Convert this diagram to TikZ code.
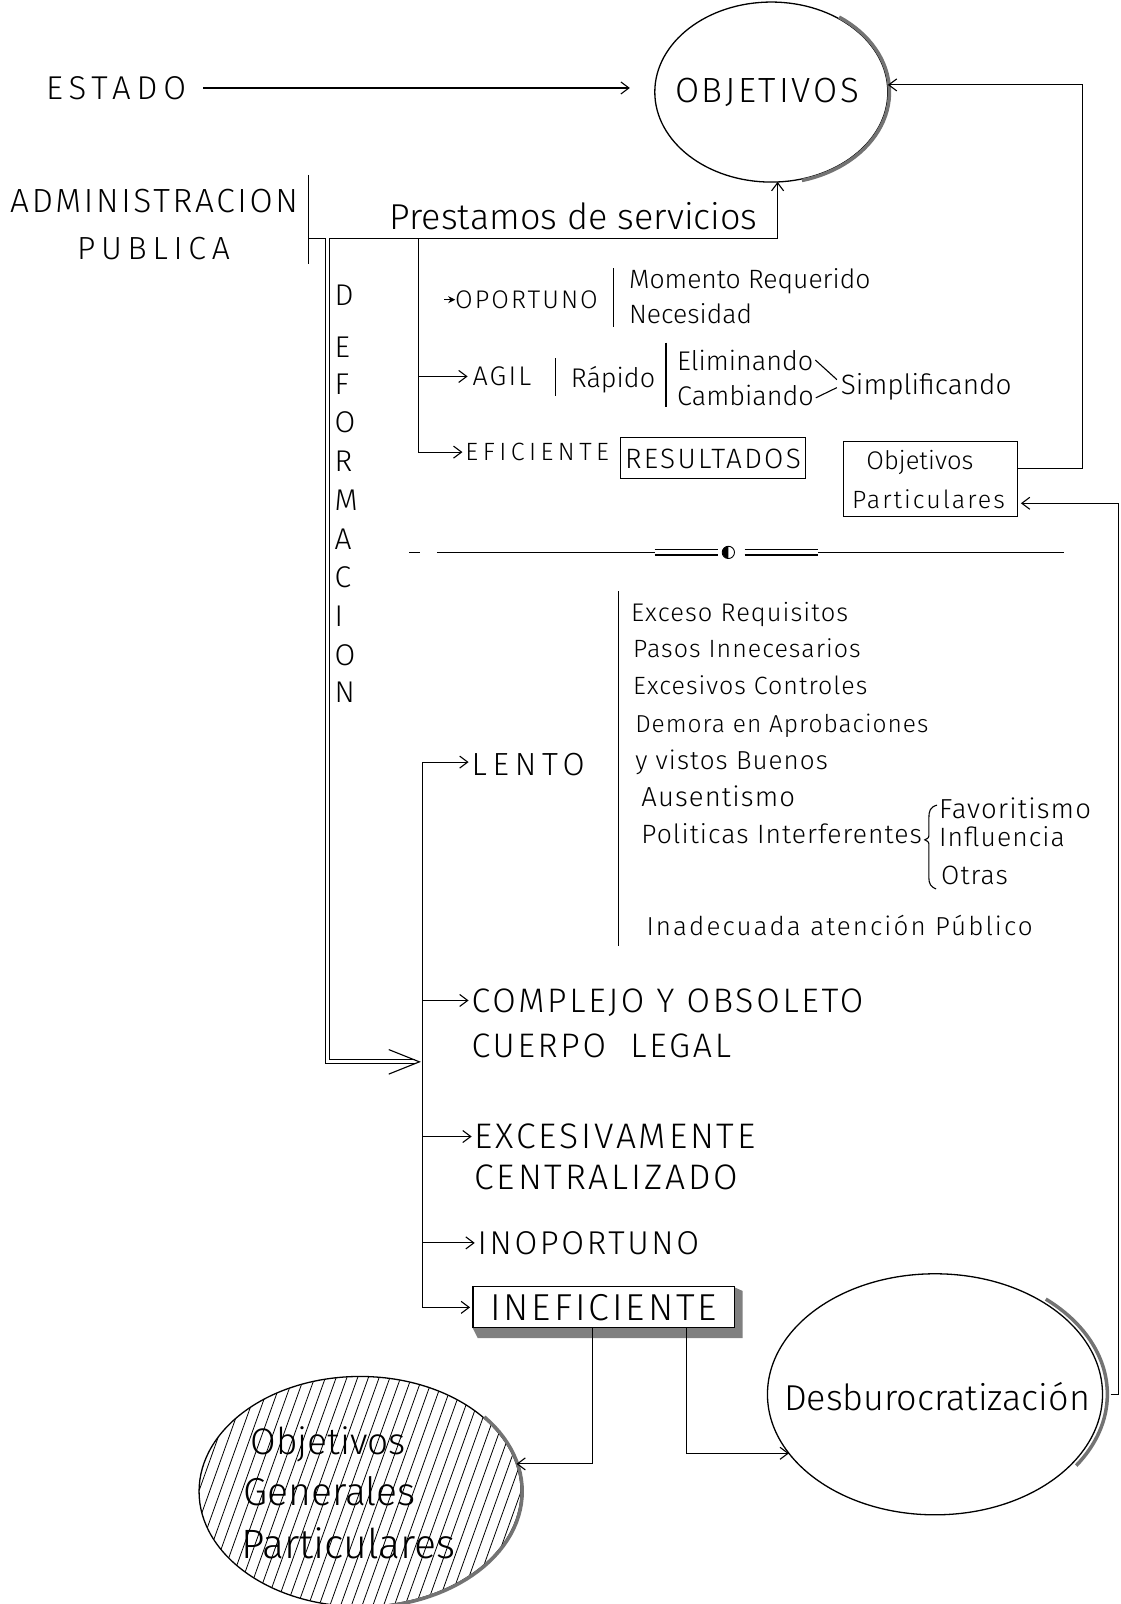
\documentclass[tikz,border=0pt]{standalone}
\usepackage{fontspec}
\setmainfont{Fira Sans Light}
\newfontfamily\widefont{Fira Sans Light}[LetterSpace=8]
\newfontfamily\widerfont{Fira Sans Light}[LetterSpace=18]
\newfontfamily\listfont{Fira Sans Light}[LetterSpace=4]
\usetikzlibrary{arrows.meta,calc,shapes.geometric}
\newcommand{\fsz}[1]{\fontsize{#1}{#1}\selectfont}
\begin{document}
\begin{tikzpicture}[x=1.0228pt, y=-1.0228pt, line width=1.1pt,
  txt/.style={inner sep=0pt, outer sep=0pt, anchor=west, text depth=0pt},
  ctr/.style={inner sep=0pt, outer sep=0pt, anchor=center, text depth=0pt},
  tip/.style={-{Straight Barb[length=8pt,width=12pt]}},
  smalltip/.style={-{Stealth[length=7pt,width=7pt]}},
  ring/.style={ellipse, draw, line width=1.3pt, inner sep=0pt, outer sep=0pt},
  frame/.style={draw, line width=1.1pt, inner sep=0pt, outer sep=0pt, text depth=0pt},
  rim/.style={line width=3.5pt, black!55}]

% page
\useasboundingbox (0,0) rectangle (1095,1568);
\fill[white] (0,0) rectangle (1095,1568);

% ---- top: Estado -> Objetivos ----
\node[ring, minimum width=233pt, minimum height=180pt] (obj) at (754,90) {};
\draw[rim] plot[domain=-75:55, samples=40] ({754+115.5*cos(\x)},{90-89.5*sin(\x)});
\node[ctr, font=\widefont\fsz{35}] (objt) at (750,88) {OBJETIVOS};
\node[txt, font=\widerfont\fsz{33}] (estado) at (45,86) {ESTADO};
\draw[tip] ([xshift=17pt]estado.east) -- ([xshift=-25pt]obj.west |- estado.east);

% ---- Administracion publica ----
\node[txt, font=\widefont\fsz{33.5}] (adm) at (10,196) {ADMINISTRACION};
\node[ctr, font=\widerfont\fsz{32}] (pub) at (150,243) {PUBLICA};
\coordinate (bart) at (302,171);
\coordinate (barb) at (302,258);
\draw (bart) -- (barb);
\coordinate (hub) at (302,233);
\draw[tip] (hub) -| (obj.-86);
\node[txt, font=\fsz{36}] (prest) at (381,211) {Prestamos de servicios};

% ---- Deformacion (double line) ----
\coordinate (defs) at (320,233);
\coordinate (defin) at (410,1038);
\draw[double, double distance=3pt, line width=0.9pt] (defs) |- ([xshift=-4pt]defin);
\draw ($(defin)+(-30,-12)$) -- (defin) -- ($(defin)+(-30,12)$);
\foreach \c/\y [count=\i] in {D/289,E/339,F/376,O/413,R/451,M/489,A/527,C/564,I/602,O/640,N/677}
  \node[txt, font=\widefont\fsz{30}] (def\i) at (327,\y) {\c};

% ---- Oportuno / Agil / Eficiente ----
\coordinate (vtop) at (409,233);
\node[txt, font=\widefont\fsz{25.5}] (opor) at (445,293) {OPORTUNO};
\draw[smalltip] ([xshift=-11pt]opor.west) -- (opor.west);
\draw (600,262) -- (600,320);
\node[txt, font=\fsz{26.5}] (mom) at (615,272) {Momento Requerido};
\node[txt, font=\fsz{26.5}] (nec) at (615,306) {Necesidad};

\node[txt, font=\widefont\fsz{27}] (agil) at (462,368) {AGIL};
\draw[tip] (vtop |- agil.west) -- ([xshift=-5pt]agil.west);
\draw (543,350) -- (543,387);
\node[txt, font=\fsz{27}] (rap) at (558,368) {Rápido};
\draw (651,335) -- (651,398);
\node[txt, font=\fsz{27}] (elim) at (662,352) {Eliminando};
\node[txt, font=\fsz{27}] (camb) at (662,386) {Cambiando};
\node[txt, font=\fsz{28}] (simp) at (822,375) {Simplificando};
\draw ([xshift=2pt]elim.east) -- ([xshift=-4pt,yshift=4pt]simp.west);
\draw ([xshift=2pt,yshift=-3pt]camb.east) -- ([xshift=-4pt,yshift=-4pt]simp.west);

\node[txt, font=\widerfont\fsz{25}] (efi) at (455,442) {EFICIENTE};
\draw[tip] (vtop) |- ([xshift=-3pt]efi.west);
\node[frame, minimum width=185pt, minimum height=41pt, font=\widefont\fsz{28}] (res) at (697,448) {RESULTADOS};

\node[frame, minimum width=174pt, minimum height=75pt] (opbox) at (910,468) {};
\node[txt, font=\fsz{25.5}] (opt1) at (847,450) {Objetivos};
\node[txt, font=\widefont\fsz{25}] (opt2) at (833,488) {Particulares};

% feedback to Objetivos
\coordinate (rtop) at (1058,83);
\draw[tip] ([yshift=10pt]opbox.east) -| (rtop) -- (obj.east |- rtop);

% ---- separator ----
\draw (400,540) -- (411,540);
\draw (427,540) -- (640,540);
\draw (640,537.5) -- (702,537.5) (640,542.5) -- (702,542.5);
\draw[line width=0.9pt] (712,540) circle (6);
\fill (712,534) arc[start angle=90, end angle=270, radius=6pt] -- cycle;
\draw (728,537.5) -- (800,537.5) (728,542.5) -- (800,542.5);
\draw (800,540) -- (1040,540);

% ---- lower list ----
\node[txt, font=\widerfont\fsz{32}] (lento) at (461,747) {LENTO};
\node[txt, font=\widefont\fsz{34}] (comp1) at (461,978) {COMPLEJO Y OBSOLETO};
\node[txt, font=\widefont\fsz{34}] (comp2) at (461,1022) {CUERPO\ \ LEGAL};
\node[txt, font=\widefont\fsz{35.5}] (exc1) at (464,1111) {EXCESIVAMENTE};
\node[txt, font=\widefont\fsz{35.5}] (exc2) at (464,1151) {CENTRALIZADO};
\node[txt, font=\widefont\fsz{33}] (inop) at (467,1215) {INOPORTUNO};

\fill[black!50] (462,1298) -- (467,1308) -- (726,1308) -- (726,1262) -- (717,1258) -- (717,1298) -- cycle;
\node[frame, fill=white, minimum width=261pt, minimum height=41pt, font=\widefont\fsz{37.5}] (inef) at (590,1278) {INEFICIENTE};

\coordinate (ltop) at (413,745);
\draw[tip] (ltop) -- ([xshift=-3pt]lento.west |- ltop);
\draw[tip] (ltop) |- ([xshift=-3pt]inef.west);
\foreach \n in {comp1,exc1,inop}
  \draw[tip] (ltop |- \n.west) -- ([xshift=-3pt]\n.west);

% reasons for slowness
\draw (605,578) -- (605,925);
\node[txt, font=\listfont\fsz{25.5}] (l1) at (617,598) {Exceso Requisitos};
\node[txt, font=\listfont\fsz{25}] (l2) at (619,634) {Pasos Innecesarios};
\node[txt, font=\listfont\fsz{25}] (l3) at (619,670) {Excesivos Controles};
\node[txt, font=\listfont\fsz{24.5}] (l4) at (621,707) {Demora en Aprobaciones};
\node[txt, font=\listfont\fsz{26}] (l5) at (621,743) {y vistos Buenos};
\node[txt, font=\listfont\fsz{27.5}] (l6) at (627,778) {Ausentismo};
\node[txt, font=\listfont\fsz{26.5}] (l7) at (627,815) {Politicas Interferentes};
\node[txt, font=\listfont\fsz{27.5}] (f1) at (918,790) {Favoritismo};
\node[txt, font=\listfont\fsz{26.5}] (f2) at (918,818) {Influencia};
\node[txt, font=\listfont\fsz{26.5}] (f3) at (920,856) {Otras};
\draw (916,787) .. controls (909,789) and (908,793) .. (908,800) -- (908,815)
  .. controls (908,819) .. (904,821) .. controls (908,823) .. (908,827) -- (908,858)
  .. controls (908,864) and (910,867) .. (915,869);
\node[txt, font=\widefont\fsz{26}] (l8) at (632,905) {Inadecuada atención Público};

% ---- outcomes ----
\node[ring, minimum width=322pt, minimum height=230pt] (hat) at (352,1458) {};
\begin{scope}
  \clip (352,1458) ellipse [x radius=157, y radius=112];
  \foreach \i in {-36,...,36}
    \draw[line width=0.8pt] ({352+\i*10.5-42},1575) -- ({352+\i*10.5+42},1340);
\end{scope}
\draw[rim] plot[domain=-80:40, samples=40] ({352+158.5*cos(\x)},{1458-113.5*sin(\x)});
\node[txt, font=\fsz{37}] (g1) at (245,1408) {Objetivos};
\node[txt, font=\fsz{39}] (g2) at (238,1458) {Generales};
\node[txt, font=\fsz{41}] (g3) at (236,1508) {Particulares};

\node[ring, minimum width=335pt, minimum height=241pt] (desb) at (914,1363) {};
\draw[rim] plot[domain=-35:50, samples=40] ({914+168.5*cos(\x)},{1363-121.5*sin(\x)});
\node[ctr, font=\fsz{36}] (desbt) at (916,1365) {Desburocratización};

\draw[tip] ([xshift=-11pt]inef.south) |- (hat.10);
\draw[tip] ([xshift=83pt]inef.south) |- (desb.202);

% return path from Desburocratizacion to the particular objectives
\coordinate (rbot) at (1093,1363);
\coordinate (rmid) at (1093,492);
\draw[tip] ([xshift=8pt]desb.east) -- (rbot) -- (rmid) -- ([xshift=3pt]opbox.east |- rmid);
\end{tikzpicture}
\end{document}
